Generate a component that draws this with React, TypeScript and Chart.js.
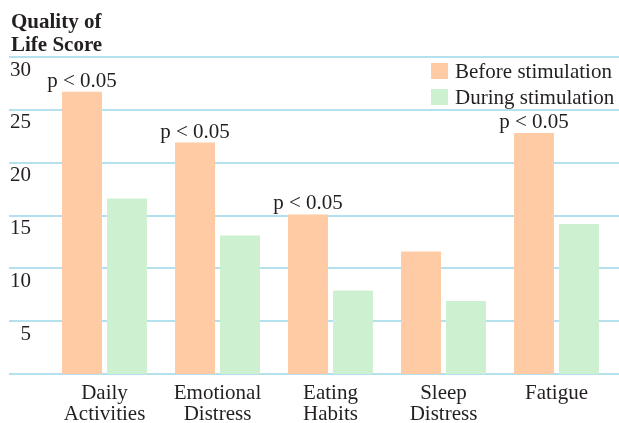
import React, { useEffect, useRef } from "react";
import { Chart, registerables } from "chart.js";

Chart.register(...registerables);

const categories: string[][] = [
  ["Daily", "Activities"],
  ["Emotional", "Distress"],
  ["Eating", "Habits"],
  ["Sleep", "Distress"],
  ["Fatigue"],
];
const seriesNames = ["Before stimulation", "During stimulation"];
const beforeValues = [26.7, 21.9, 15.1, 11.6, 22.8];
const duringValues = [16.6, 13.1, 7.9, 6.9, 14.2];
const significant = [true, true, true, false, true];
const significanceLabel = "p < 0.05";
const yTitle = ["Quality of", "Life Score"];
const yMin = 0;
const yMax = 30;
const yStep = 5;

const FONT = "'Liberation Serif', 'Times New Roman', serif";
const TEXT = "#231f20";
const ORANGE = "#fecba5";
const GREEN = "#cdf1d0";
const GRID = "#b5e1ef";

const overlayPlugin = {
  id: "overlay",
  beforeDatasetsDraw(chart: any) {
    const { ctx, scales } = chart;
    const y = scales.y;
    ctx.save();
    ctx.strokeStyle = GRID;
    ctx.lineWidth = 2;
    y.ticks.forEach((t: any) => {
      const py = Math.round(y.getPixelForValue(t.value));
      ctx.beginPath();
      ctx.moveTo(9, py);
      ctx.lineTo(chart.width, py);
      ctx.stroke();
    });
    ctx.restore();
  },
  afterDraw(chart: any) {
    const { ctx } = chart;
    ctx.save();
    // axis title
    ctx.fillStyle = TEXT;
    ctx.font = `bold 21px ${FONT}`;
    ctx.textAlign = "left";
    ctx.textBaseline = "alphabetic";
    yTitle.forEach((line, i) => ctx.fillText(line, 11, 28 + i * 22.5));

    // legend
    const colors = chart.data.datasets.map((d: any) => d.backgroundColor);
    ctx.font = `21px ${FONT}`;
    chart.data.datasets.forEach((d: any, i: number) => {
      const by = 63 + i * 26;
      ctx.fillStyle = colors[i];
      ctx.fillRect(431, by, 17, 16);
      ctx.fillStyle = TEXT;
      ctx.fillText(d.label, 455, by + 15);
    });

    // significance labels
    const meta = chart.getDatasetMeta(0);
    ctx.textAlign = "center";
    significant.forEach((s, i) => {
      if (!s) return;
      const el = meta.data[i];
      ctx.fillText(significanceLabel, el.x, el.y - 5);
    });
    ctx.restore();
  },
};

export default function App() {
  const ref = useRef<HTMLCanvasElement>(null);
  useEffect(() => {
    const chart = new Chart(ref.current!, {
      type: "bar",
      data: {
        labels: categories,
        datasets: [
          { label: seriesNames[0], data: beforeValues, backgroundColor: ORANGE },
          { label: seriesNames[1], data: duringValues, backgroundColor: GREEN },
        ],
      },
      options: {
        animation: false,
        responsive: true,
        maintainAspectRatio: false,
        layout: { padding: { top: 57, right: 6, left: 0, bottom: 0 } },
        datasets: {
          bar: { categoryPercentage: 0.796, barPercentage: 0.889 },
        },
        plugins: {
          legend: { display: false },
          title: { display: false },
          tooltip: { enabled: false },
        },
        scales: {
          x: {
            grid: { display: false, drawTicks: false },
            border: { display: false },
            ticks: {
              color: TEXT,
              font: { family: FONT, size: 21, lineHeight: 1.0 },
              padding: 9,
              maxRotation: 0,
              autoSkip: false,
            },
            afterFit(scale: any) {
              scale.height = 49;
            },
          },
          y: {
            min: yMin,
            max: yMax,
            grid: { display: false, drawTicks: false },
            border: { display: false },
            ticks: {
              stepSize: yStep,
              color: TEXT,
              font: { family: FONT, size: 21 },
              padding: 17,
              labelOffset: 13,
              callback: (v: any) => (v === 0 ? "" : String(v)),
            },
            afterFit(scale: any) {
              scale.width = 48;
            },
          },
        },
      },
      plugins: [overlayPlugin],
    });
    return () => chart.destroy();
  }, []);

  return (
    <div style={{ position: "absolute", left: 0, top: 0, width: 619, height: 423, background: "#fff" }}>
      <canvas ref={ref} />
    </div>
  );
}
